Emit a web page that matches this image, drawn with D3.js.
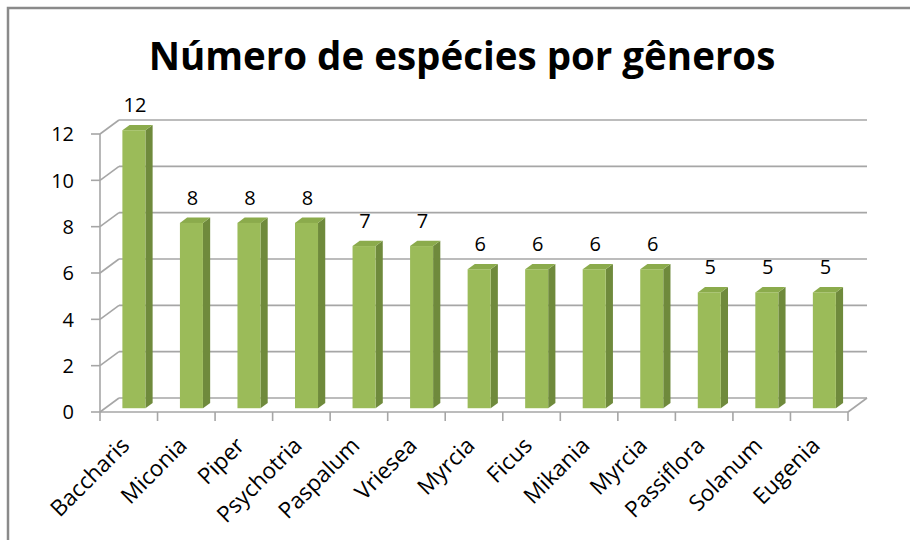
<!DOCTYPE html>
<html>
<head>
<meta charset="utf-8">
<script src="https://cdn.jsdelivr.net/npm/d3@7"></script>
<style>
  body { margin: 0; background: #fff; }
  text { font-family: "Open Sans", Lato, sans-serif; fill: #000; }
</style>
</head>
<body>
<script>
// Chart data
var generos = ["Baccharis", "Miconia", "Piper", "Psychotria", "Paspalum", "Vriesea",
  "Myrcia", "Ficus", "Mikania", "Myrcia", "Passiflora", "Solanum", "Eugenia"];
var especies = [12, 8, 8, 8, 7, 7, 6, 6, 6, 6, 5, 5, 5];
var yTicks = [0, 2, 4, 6, 8, 10, 12];

var w = 910, h = 540;

// front edge of the 3d box and its depth vector
var left = 100, right = 848;
var depthX = 19, depthY = -14;

var svg = d3.select("body").append("svg")
  .attr("width", w)
  .attr("height", h);

// outer frame (cropped on the right and bottom)
svg.append("path")
  .attr("d", "M8," + h + "V8H" + w)
  .attr("fill", "none")
  .attr("stroke", "#8a8a8a")
  .attr("stroke-width", 2.5);

var xScale = d3.scaleBand()
  .domain(d3.range(generos.length))
  .range([left, right]);

var yScale = d3.scaleLinear()
  .domain([0, 12])
  .range([412, 134]);

// shift a point into the depth of the box
function px(x, t) { return x + t * depthX; }
function py(y, t) { return y + t * depthY; }

var grid = svg.append("g");

// back wall gridlines and side wall diagonals
yTicks.forEach(function(v) {
  var y = yScale(v);
  grid.append("line")
    .attr("x1", px(left, 1)).attr("y1", py(y, 1))
    .attr("x2", px(right, 1)).attr("y2", py(y, 1));
  grid.append("line")
    .attr("x1", left).attr("y1", y)
    .attr("x2", px(left, 1)).attr("y2", py(y, 1));
  // tick mark on the front axis
  grid.append("line")
    .attr("x1", left - 9).attr("y1", y)
    .attr("x2", left).attr("y2", y);
});

// floor front edge and right edge
grid.append("line")
  .attr("x1", left).attr("y1", yScale(0))
  .attr("x2", right).attr("y2", yScale(0));
grid.append("line")
  .attr("x1", right).attr("y1", yScale(0))
  .attr("x2", px(right, 1)).attr("y2", py(yScale(0), 1));

// vertical axis line
grid.append("line")
  .attr("x1", left).attr("y1", yScale(12))
  .attr("x2", left).attr("y2", yScale(0));

// category ticks
d3.range(generos.length + 1).forEach(function(i) {
  var x = left + i * xScale.step();
  grid.append("line")
    .attr("x1", x).attr("y1", yScale(0))
    .attr("x2", x).attr("y2", yScale(0) + 9);
});

grid.selectAll("line")
  .attr("stroke", "#a6a6a6")
  .attr("stroke-width", 1.6);

// y tick labels
svg.selectAll(".ylab")
  .data(yTicks)
  .enter()
  .append("text")
  .attr("class", "ylab")
  .attr("x", 74)
  .attr("y", function(d) { return yScale(d); })
  .attr("dy", "0.36em")
  .attr("text-anchor", "end")
  .style("font-size", "20px")
  .text(function(d) { return d; });

// 3d columns
var t1 = 0.27, t2 = 0.65;
var barW = xScale.bandwidth() * 0.4;

var bars = svg.selectAll(".bar")
  .data(especies)
  .enter()
  .append("g")
  .attr("class", "bar");

function corners(d, i) {
  var x0 = xScale(i) + xScale.bandwidth() / 2 - barW / 2;
  var x1 = x0 + barW;
  return {
    x0: px(x0, t1), x1: px(x1, t1),
    yb: py(yScale(0), t1), yt: py(yScale(d), t1),
    dx: (t2 - t1) * depthX, dy: (t2 - t1) * depthY
  };
}

// side face
bars.append("path")
  .attr("fill", "#6f8a3c")
  .attr("d", function(d, i) {
    var c = corners(d, i);
    return "M" + c.x1 + "," + c.yb + "L" + (c.x1 + c.dx) + "," + (c.yb + c.dy) +
      "L" + (c.x1 + c.dx) + "," + (c.yt + c.dy) + "L" + c.x1 + "," + c.yt + "Z";
  });

// top face
bars.append("path")
  .attr("fill", "#8bab4c")
  .attr("d", function(d, i) {
    var c = corners(d, i);
    return "M" + c.x0 + "," + c.yt + "L" + (c.x0 + c.dx) + "," + (c.yt + c.dy) +
      "L" + (c.x1 + c.dx) + "," + (c.yt + c.dy) + "L" + c.x1 + "," + c.yt + "Z";
  });

// front face
bars.append("rect")
  .attr("fill", "#9bbb59")
  .attr("x", function(d, i) { return corners(d, i).x0; })
  .attr("y", function(d, i) { return corners(d, i).yt; })
  .attr("width", barW)
  .attr("height", function(d, i) { var c = corners(d, i); return c.yb - c.yt; });

// value labels
bars.append("text")
  .attr("x", function(d, i) { var c = corners(d, i); return (c.x0 + c.x1) / 2 + 1; })
  .attr("y", function(d, i) { var c = corners(d, i); return c.yt + c.dy - 13; })
  .attr("text-anchor", "middle")
  .style("font-size", "20px")
  .text(function(d) { return d; });

// category labels, rotated
svg.selectAll(".xlab")
  .data(generos)
  .enter()
  .append("text")
  .attr("class", "xlab")
  .attr("transform", function(d, i) {
    var x = xScale(i) + xScale.bandwidth() / 2 + 2;
    return "translate(" + x + ",447) rotate(-45)";
  })
  .attr("text-anchor", "end")
  .style("font-size", "22.5px")
  .text(function(d) { return d; });

// title
svg.append("text")
  .attr("x", 462)
  .attr("y", 70)
  .attr("text-anchor", "middle")
  .style("font-size", "38.5px")
  .style("font-weight", "bold")
  .text("Número de espécies por gêneros");
</script>
</body>
</html>
